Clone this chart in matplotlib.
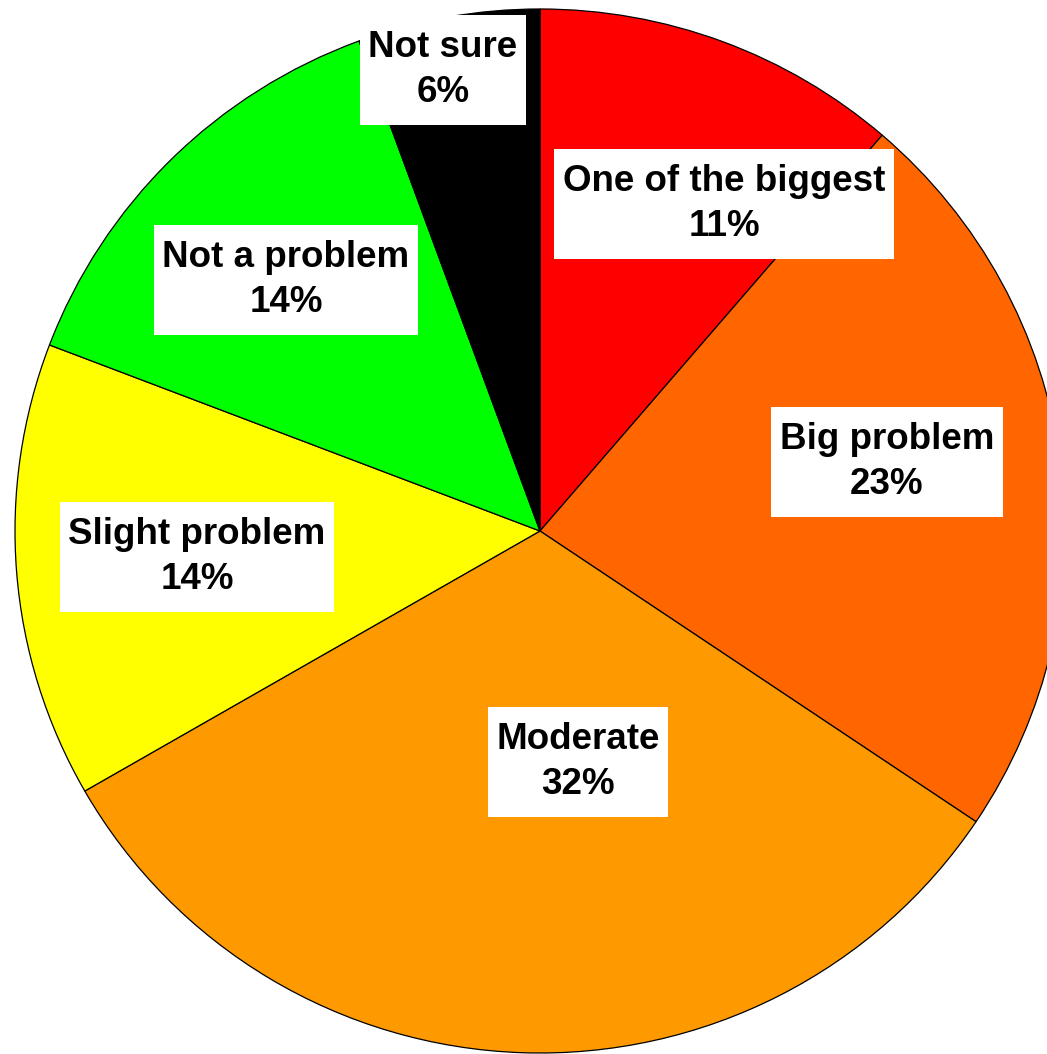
import matplotlib
matplotlib.use("Agg")
import matplotlib.pyplot as plt
from matplotlib.patches import Rectangle
from matplotlib.transforms import IdentityTransform

# données
categories = ["One of the biggest", "Big problem", "Moderate",
              "Slight problem", "Not a problem", "Not sure"]
pourcentages = [11, 23, 32, 14, 14, 6]           # étiquettes affichées
parts = [11.3, 23.1, 32.3, 14.1, 13.6, 5.6]      # taille des secteurs
couleurs = ["#FF0000", "#FF6600", "#FF9900", "#FFFF00", "#00FF00", "#000000"]

# position des étiquettes (pixels, origine en haut à gauche)
pos_etiquettes = [(724, 204), (887, 462), (578, 762),
                  (197, 557), (286, 280), (443, 70)]

W, H = 1047, 1054
cx, cy = 540, 531      # centre du camembert (pixels)
rx, ry = 525, 522      # rayons horizontal / vertical (pixels)

plt.rcParams['font.family'] = ['Liberation Sans', 'DejaVu Sans']

fig = plt.figure(figsize=(W/100, H/100), dpi=100)
ax = fig.add_axes([0, 0, 1, 1])
ax.pie(parts, colors=couleurs, startangle=90, counterclock=False,
       wedgeprops=dict(edgecolor="black", linewidth=0.9))
ax.set_xlim(-cx/rx, (W - cx)/rx)
ax.set_ylim(-(H - cy)/ry, cy/ry)
ax.set_aspect("auto")
ax.axis("off")

textes = []
for cat, v, (px, py) in zip(categories, pourcentages, pos_etiquettes):
    t = ax.text(px/W, 1 - py/H, f"{cat}\n{v}%", transform=ax.transAxes,
                ha="center", va="center", multialignment="center",
                fontsize=26.5, fontweight="bold", linespacing=1.34, zorder=5)
    textes.append(t)

# boîtes blanches derrière les étiquettes
fig.canvas.draw()
rend = fig.canvas.get_renderer()
for t in textes:
    bb = t.get_window_extent(rend)
    xc, yc = (bb.x0 + bb.x1)/2, (bb.y0 + bb.y1)/2
    w, h = bb.width + 17, 110
    rect = Rectangle((xc - w/2, yc - h/2), w, h, fc="white", ec="none",
                     transform=IdentityTransform(), zorder=4)
    ax.add_artist(rect)

fig.savefig("out.png", dpi=100)
